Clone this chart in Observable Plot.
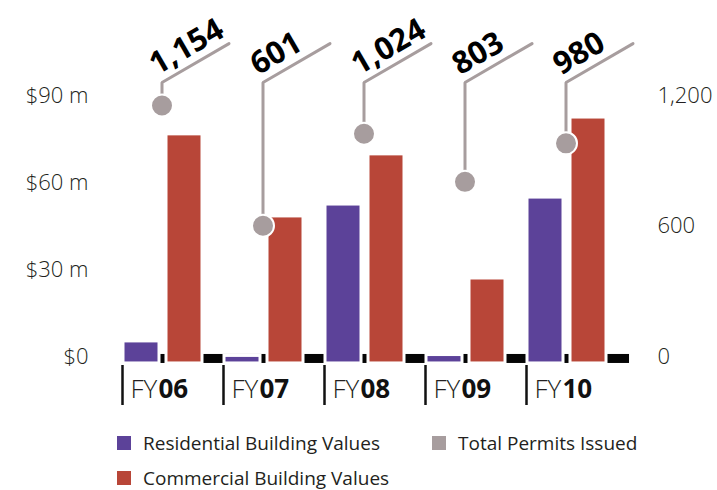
<!DOCTYPE html>
<html>
<head>
<meta charset="utf-8">
<script src="https://cdn.jsdelivr.net/npm/d3@7"></script>
<script src="https://cdn.jsdelivr.net/npm/@observablehq/plot@0.6"></script>
<style>
  html, body { margin: 0; padding: 0; background: #fff; }
  #wrap { position: relative; width: 717px; height: 490px; font-family: "Open Sans", sans-serif; }
  .lg { position: absolute; display: flex; align-items: center; font-size: 19px; color: #231f20; height: 20px; white-space: nowrap; }
  .sw { display: inline-block; width: 14px; height: 14px; margin-right: 12px; }
</style>
</head>
<body>
<div id="wrap">
  <div id="chart"></div>
  <div id="legend"></div>
</div>
<script>
// ---- data ----
const years = ["06", "07", "08", "09", "10"];
const residential = [5.2, 0.2, 52.4, 0.5, 54.8];   // $ millions
const commercial = [76.6, 48.3, 69.7, 26.9, 82.4];  // $ millions
const permits = [1154, 601, 1024, 803, 980];
const leftTicks = [0, 30, 60, 90];
const rightTicks = [0, 600, 1200];
const seriesNames = ["Residential Building Values", "Commercial Building Values", "Total Permits Issued"];

// ---- styling / geometry ----
const PURPLE = "#5c4299", RED = "#b84638", GREY = "#a79d9e", INK = "#231f20";
const G = 101;                     // pixels per year group
const f = px => px / G;            // pixel offset -> group fraction
const permitToM = 90 / 1200;       // right axis maps 1,200 permits onto $90 m
const bandTop = 0.7, bandBottom = -2.4;
const cornerY = 94.5, endY = 107.9;
const tickTop = -3.1, tickBottom = -16.9, labelY = -11.4;

const rows = years.map((y, i) => ({
  i, year: y, res: residential[i], com: commercial[i], permits: permits[i]
}));

const paths = rows.flatMap(d => [
  {year: d.year, x: d.i + f(39.5), y: d.permits * permitToM},
  {year: d.year, x: d.i + f(39.5), y: cornerY},
  {year: d.year, x: d.i + f(106.5), y: endY}
]);

const chart = Plot.plot({
  width: 717,
  height: 420,
  marginLeft: 122,
  marginRight: 90,
  marginTop: 95,
  marginBottom: 64,
  style: {fontFamily: "Open Sans, sans-serif", background: "white", overflow: "visible"},
  x: {domain: [0, 5], axis: null},
  y: {domain: [0, 90], axis: null},
  marks: [
    Plot.rect([0], {x1: () => 0, x2: () => 5.02, y1: () => bandBottom, y2: () => bandTop, fill: "#050505"}),
    Plot.rect(rows, {x1: d => d.i + f(1), x2: d => d.i + f(37), y1: () => bandBottom, y2: "res",
      fill: PURPLE, stroke: "white", strokeWidth: 3}),
    Plot.rect(rows, {x1: d => d.i + f(44), x2: d => d.i + f(80), y1: () => bandBottom, y2: "com",
      fill: RED, stroke: "white", strokeWidth: 3}),
    Plot.ruleX(rows, {x: "i", y1: () => tickTop, y2: () => tickBottom, stroke: "#111", strokeWidth: 2.5}),
    Plot.text(rows, {x: "i", y: () => labelY, text: () => "FY", dx: 8, textAnchor: "start",
      fontSize: 26, fontWeight: 300, fill: INK}),
    Plot.text(rows, {x: "i", y: () => labelY, text: "year", dx: 36, textAnchor: "start",
      fontSize: 26, fontWeight: 700, fill: "#111"}),
    Plot.axisY({anchor: "left", ticks: leftTicks, tickSize: 0, tickPadding: 34,
      tickFormat: d => d === 0 ? "$0" : `$${d} m`, fontSize: 22, fontWeight: 300, fill: INK}),
    Plot.axisY({anchor: "right", ticks: rightTicks.map(t => t * permitToM), tickSize: 0, tickPadding: 30,
      tickFormat: d => d3.format(",")(Math.round(d / permitToM)), fontSize: 22, fontWeight: 300, fill: INK}),
    Plot.line(paths, {x: "x", y: "y", z: "year", stroke: GREY, strokeWidth: 3, strokeLinejoin: "miter"}),
    Plot.dot(rows, {x: d => d.i + f(39.5), y: d => d.permits * permitToM, r: 11, fill: GREY, stroke: "white", strokeWidth: 2}),
    Plot.text(rows, {x: d => d.i + f(39.5), y: () => cornerY, text: d => d3.format(",")(d.permits),
      rotate: -30, textAnchor: "start", lineAnchor: "bottom", dx: -5, dy: -7,
      fontSize: 31, fontWeight: 700, fill: "#000"})
  ]
});
document.getElementById("chart").appendChild(chart);

// ---- legend ----
const legendItems = [
  {name: seriesNames[0], color: PURPLE, left: 117, top: 433},
  {name: seriesNames[2], color: GREY, left: 432, top: 433},
  {name: seriesNames[1], color: RED, left: 117, top: 468}
];
const lg = document.getElementById("legend");
for (const it of legendItems) {
  const el = document.createElement("div");
  el.className = "lg";
  el.style.left = it.left + "px";
  el.style.top = it.top + "px";
  el.innerHTML = `<span class="sw" style="background:${it.color}"></span>${it.name}`;
  lg.appendChild(el);
}
</script>
</body>
</html>
